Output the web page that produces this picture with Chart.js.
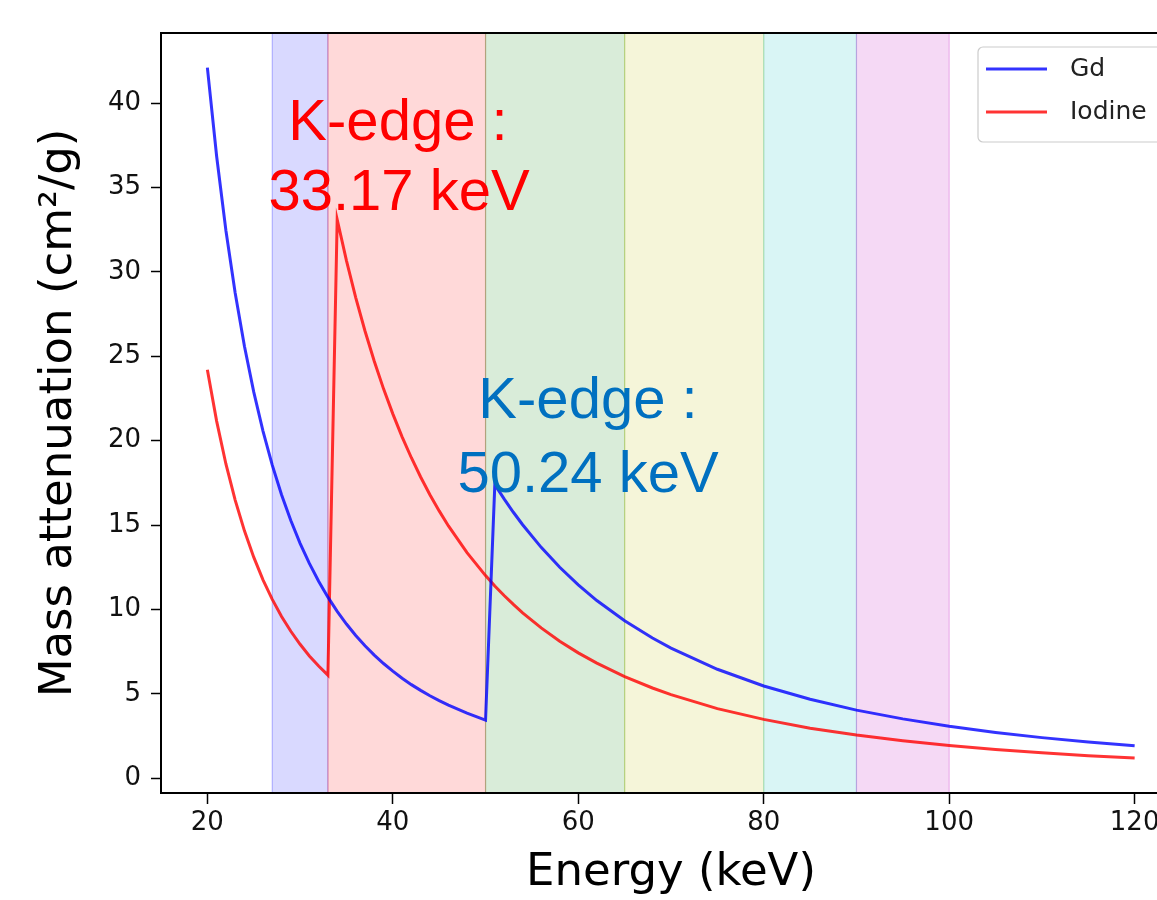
<!DOCTYPE html>
<html>
<head>
<meta charset="utf-8">
<script src="https://cdn.jsdelivr.net/npm/chart.js@4.4.1/dist/chart.umd.min.js"></script>
<style>
  html, body { margin: 0; padding: 0; background: #fff; overflow: hidden; }
  #wrap { width: 1200px; height: 900px; }
</style>
</head>
<body>
<div id="wrap"><canvas id="myChart" width="1200" height="900"></canvas></div>
<script>
// energy grid (keV) shared by both curves
const energy = [20, 21, 22, 23, 24, 25, 26, 27, 28, 29, 30, 31, 32, 33, 34, 35, 36, 37, 38, 39, 40,
  41, 42, 43, 44, 45, 46, 48, 50, 51, 52, 53, 54, 56, 58, 60, 62, 65, 68, 70,
  75, 80, 85, 90, 95, 100, 105, 110, 115, 120];

// mass attenuation (cm^2/g)
const gd = [42.1, 36.85, 32.45, 28.75, 25.59, 22.89, 20.57, 18.55, 16.80, 15.27, 13.92, 12.73, 11.67, 10.73,
  9.89, 9.14, 8.46, 7.85, 7.30, 6.80, 6.35, 5.93, 5.55, 5.21, 4.89, 4.60, 4.33, 3.86, 3.45,
  17.4, 16.55, 15.76, 15.02, 13.68, 12.50, 11.46, 10.53, 9.33, 8.31, 7.71,
  6.46, 5.47, 4.68, 4.04, 3.52, 3.08, 2.72, 2.41, 2.15, 1.93];
const iodine = [24.2, 21.16, 18.62, 16.48, 14.66, 13.10, 11.76, 10.60, 9.59, 8.71, 7.94, 7.25, 6.65, 6.11,
  33.1, 30.67, 28.48, 26.50, 24.71, 23.07, 21.59, 20.23, 18.99, 17.85, 16.80, 15.84, 14.95, 13.37, 12.01,
  11.39, 10.83, 10.30, 9.80, 8.91, 8.12, 7.43, 6.82, 6.02, 5.35, 4.96,
  4.13, 3.49, 2.97, 2.56, 2.22, 1.94, 1.71, 1.51, 1.34, 1.20];

const xTicks = [20, 40, 60, 80, 100, 120];
const yTicks = [0, 5, 10, 15, 20, 25, 30, 35, 40];

// shaded energy windows (keV)
const bandStart = [27, 33, 50, 65, 80, 90];
const bandEnd = [33, 50, 65, 80, 90, 100];
const bandRgb = ['0,0,255', '255,0,0', '0,128,0', '191,191,0', '0,191,191', '191,0,191'];

const tickFont = { family: 'DejaVu Sans', size: 26 };
const noteFont = '58px "Liberation Sans", Arial, sans-serif';

const bands = {
  id: 'bands',
  beforeDatasetsDraw(chart) {
    const { ctx, chartArea, scales: { x } } = chart;
    ctx.save();
    ctx.beginPath();
    ctx.rect(chartArea.left, chartArea.top, chartArea.right - chartArea.left, chartArea.bottom - chartArea.top);
    ctx.clip();
    bandStart.forEach((s, i) => {
      const x0 = x.getPixelForValue(s);
      const x1 = x.getPixelForValue(bandEnd[i]);
      ctx.fillStyle = 'rgba(' + bandRgb[i] + ',0.15)';
      ctx.fillRect(x0, chartArea.top, x1 - x0, chartArea.bottom - chartArea.top);
      ctx.strokeStyle = 'rgba(' + bandRgb[i] + ',0.25)';
      ctx.lineWidth = 1.2;
      ctx.strokeRect(x0, chartArea.top - 2, x1 - x0, chartArea.bottom - chartArea.top + 4);
    });
    ctx.restore();
  }
};

const frame = {
  id: 'frame',
  afterDatasetsDraw(chart) {
    const { ctx, chartArea } = chart;
    ctx.save();
    ctx.strokeStyle = '#000';
    ctx.lineWidth = 2;
    ctx.strokeRect(chartArea.left, chartArea.top, chartArea.right - chartArea.left, chartArea.bottom - chartArea.top);
    ctx.restore();
  }
};

const overlay = {
  id: 'overlay',
  afterDraw(chart) {
    const { ctx, chartArea } = chart;
    ctx.save();

    // legend box, upper right
    const bx = chartArea.right - 203, by = chartArea.top + 14;
    ctx.fillStyle = 'rgba(255,255,255,0.8)';
    ctx.strokeStyle = '#cccccc';
    ctx.lineWidth = 1.2;
    ctx.beginPath();
    ctx.roundRect(bx, by, 196, 95, 5);
    ctx.fill();
    ctx.stroke();
    chart.data.datasets.forEach((ds, i) => {
      const ly = by + 22 + i * 43;
      ctx.strokeStyle = ds.borderColor;
      ctx.lineWidth = ds.borderWidth;
      ctx.beginPath();
      ctx.moveTo(bx + 8, ly);
      ctx.lineTo(bx + 69, ly);
      ctx.stroke();
      ctx.fillStyle = '#222';
      ctx.font = '25px "DejaVu Sans"';
      ctx.textAlign = 'left';
      ctx.textBaseline = 'middle';
      ctx.fillText(ds.label, bx + 92, ly);
    });

    // K-edge notes
    ctx.font = noteFont;
    ctx.textAlign = 'center';
    ctx.textBaseline = 'alphabetic';
    ctx.fillStyle = '#ff0000';
    ctx.fillText('K-edge :', 398, 140);
    ctx.fillText('33.17 keV', 399, 210);
    ctx.fillStyle = '#0070c0';
    ctx.fillText('K-edge :', 588, 418);
    ctx.fillText('50.24 keV', 588, 492);
    ctx.restore();
  }
};

const ctx = document.getElementById('myChart').getContext('2d');
new Chart(ctx, {
  type: 'line',
  data: {
    datasets: [
      {
        label: 'Gd',
        data: energy.map((e, i) => ({ x: e, y: gd[i] })),
        borderColor: 'rgba(0,0,255,0.8)',
        borderWidth: 3,
        pointRadius: 0,
        tension: 0
      },
      {
        label: 'Iodine',
        data: energy.map((e, i) => ({ x: e, y: iodine[i] })),
        borderColor: 'rgba(255,0,0,0.8)',
        borderWidth: 3,
        pointRadius: 0,
        tension: 0
      }
    ]
  },
  options: {
    responsive: false,
    animation: false,
    layout: { padding: { left: 0, top: 33, right: 19, bottom: 0 } },
    plugins: { legend: { display: false }, tooltip: { enabled: false } },
    scales: {
      x: {
        type: 'linear',
        min: 15,
        max: 125,
        afterFit: (s) => { s.height = 107; },
        afterBuildTicks: (s) => { s.ticks = xTicks.map(v => ({ value: v })); },
        border: { display: false },
        grid: { drawOnChartArea: false, drawTicks: true, tickLength: 11, tickColor: '#000', tickWidth: 1.5 },
        ticks: { font: tickFont, color: '#111', padding: 4, maxRotation: 0 },
        title: { display: true, text: 'Energy (keV)', color: '#000',
          font: { family: 'DejaVu Sans', size: 45, lineHeight: 1 }, padding: { top: 0, bottom: 4 } }
      },
      y: {
        min: -0.87,
        max: 44.15,
        afterFit: (s) => { s.width = 161; },
        afterBuildTicks: (s) => { s.ticks = yTicks.map(v => ({ value: v })); },
        border: { display: false },
        grid: { drawOnChartArea: false, drawTicks: true, tickLength: 10, tickColor: '#000', tickWidth: 1.5 },
        ticks: { font: tickFont, color: '#111', padding: 10 },
        title: { display: true, text: 'Mass attenuation (cm²/g)', color: '#000',
          font: { family: 'DejaVu Sans', size: 45, lineHeight: 1 }, padding: { top: 37, bottom: 0 } }
      }
    }
  },
  plugins: [bands, frame, overlay]
});
</script>
</body>
</html>
